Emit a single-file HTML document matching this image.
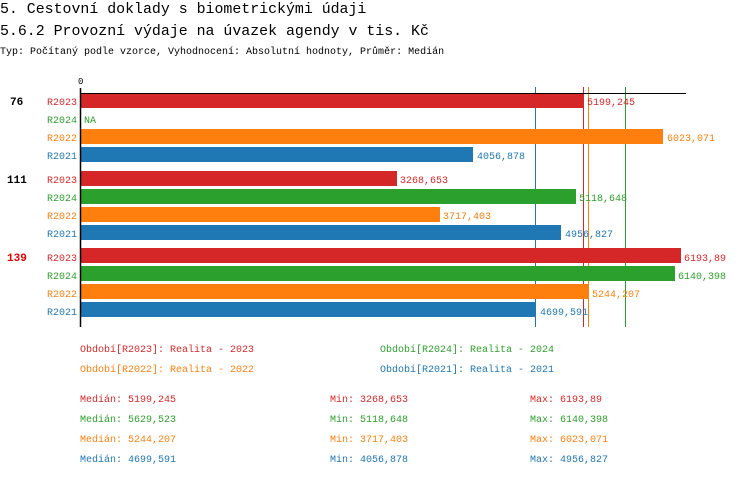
<!DOCTYPE html>
<html><head><meta charset="utf-8"><style>
body{margin:0;background:#fff;width:750px;height:476px;overflow:hidden;font-family:"Liberation Mono",monospace}
</style></head><body>
<svg width="750" height="476" xmlns="http://www.w3.org/2000/svg" font-family="Liberation Mono, monospace">
<text x="0" y="13" font-size="14.9">5. Cestovní doklady s biometrickými údaji</text>
<text x="0" y="35" font-size="14.9">5.6.2 Provozní výdaje na úvazek agendy v tis. Kč</text>
<text x="0" y="54" font-size="10">Typ: Počítaný podle vzorce, Vyhodnocení: Absolutní hodnoty, Průměr: Medián</text>
<text x="78" y="84" font-size="9">0</text>
<line x1="535.5" y1="87" x2="535.5" y2="327" stroke="#1f77b4"/>
<line x1="583.5" y1="87" x2="583.5" y2="327" stroke="#d62728"/>
<line x1="588.5" y1="87" x2="588.5" y2="327" stroke="#ff7f0e"/>
<line x1="625.5" y1="87" x2="625.5" y2="327" stroke="#2ca02c"/>
<g font-size="10">
<text x="10" y="105" font-weight="bold" font-size="11">76</text>
<rect x="81" y="93" width="502" height="15" fill="#d62728"/>
<text x="47" y="105" fill="#d62728">R2023</text><text x="587" y="105" fill="#d62728">5199,245</text>
<text x="47" y="123" fill="#2ca02c">R2024</text><text x="84" y="123" fill="#2ca02c">NA</text>
<rect x="81" y="129" width="582" height="15" fill="#ff7f0e"/>
<text x="47" y="141" fill="#ff7f0e">R2022</text><text x="667" y="141" fill="#ff7f0e">6023,071</text>
<rect x="81" y="147" width="392" height="15" fill="#1f77b4"/>
<text x="47" y="159" fill="#1f77b4">R2021</text><text x="477" y="159" fill="#1f77b4">4056,878</text>
<text x="7" y="183" font-weight="bold" font-size="11">111</text>
<rect x="81" y="171" width="316" height="15" fill="#d62728"/>
<text x="47" y="183" fill="#d62728">R2023</text><text x="400" y="183" fill="#d62728">3268,653</text>
<rect x="81" y="189" width="495" height="15" fill="#2ca02c"/>
<text x="47" y="201" fill="#2ca02c">R2024</text><text x="579" y="201" fill="#2ca02c">5118,648</text>
<rect x="81" y="207" width="359" height="15" fill="#ff7f0e"/>
<text x="47" y="219" fill="#ff7f0e">R2022</text><text x="443" y="219" fill="#ff7f0e">3717,403</text>
<rect x="81" y="225" width="480" height="15" fill="#1f77b4"/>
<text x="47" y="237" fill="#1f77b4">R2021</text><text x="565" y="237" fill="#1f77b4">4956,827</text>
<text x="7" y="261" font-weight="bold" font-size="11" fill="#e00000">139</text>
<rect x="81" y="248" width="600" height="15" fill="#d62728"/>
<text x="47" y="261" fill="#d62728">R2023</text><text x="684" y="261" fill="#d62728">6193,89</text>
<rect x="81" y="266" width="594" height="15" fill="#2ca02c"/>
<text x="47" y="279" fill="#2ca02c">R2024</text><text x="678" y="279" fill="#2ca02c">6140,398</text>
<rect x="81" y="284" width="507" height="15" fill="#ff7f0e"/>
<text x="47" y="297" fill="#ff7f0e">R2022</text><text x="592" y="297" fill="#ff7f0e">5244,207</text>
<rect x="81" y="302" width="454" height="15" fill="#1f77b4"/>
<text x="47" y="315" fill="#1f77b4">R2021</text><text x="540" y="315" fill="#1f77b4">4699,591</text>
</g>
<line x1="80" y1="93.5" x2="686" y2="93.5" stroke="#000"/>
<line x1="80.5" y1="88" x2="80.5" y2="327" stroke="#000" stroke-width="1.5"/>
<g font-size="10">
<text x="80" y="352" fill="#d62728">Období[R2023]: Realita - 2023</text>
<text x="380" y="352" fill="#2ca02c">Období[R2024]: Realita - 2024</text>
<text x="80" y="372" fill="#ff7f0e">Období[R2022]: Realita - 2022</text>
<text x="380" y="372" fill="#1f77b4">Období[R2021]: Realita - 2021</text>
<text x="80" y="402" fill="#d62728">Medián: 5199,245</text><text x="330" y="402" fill="#d62728">Min: 3268,653</text><text x="530" y="402" fill="#d62728">Max: 6193,89</text>
<text x="80" y="422" fill="#2ca02c">Medián: 5629,523</text><text x="330" y="422" fill="#2ca02c">Min: 5118,648</text><text x="530" y="422" fill="#2ca02c">Max: 6140,398</text>
<text x="80" y="442" fill="#ff7f0e">Medián: 5244,207</text><text x="330" y="442" fill="#ff7f0e">Min: 3717,403</text><text x="530" y="442" fill="#ff7f0e">Max: 6023,071</text>
<text x="80" y="462" fill="#1f77b4">Medián: 4699,591</text><text x="330" y="462" fill="#1f77b4">Min: 4056,878</text><text x="530" y="462" fill="#1f77b4">Max: 4956,827</text>
</g>
</svg>
</body></html>
